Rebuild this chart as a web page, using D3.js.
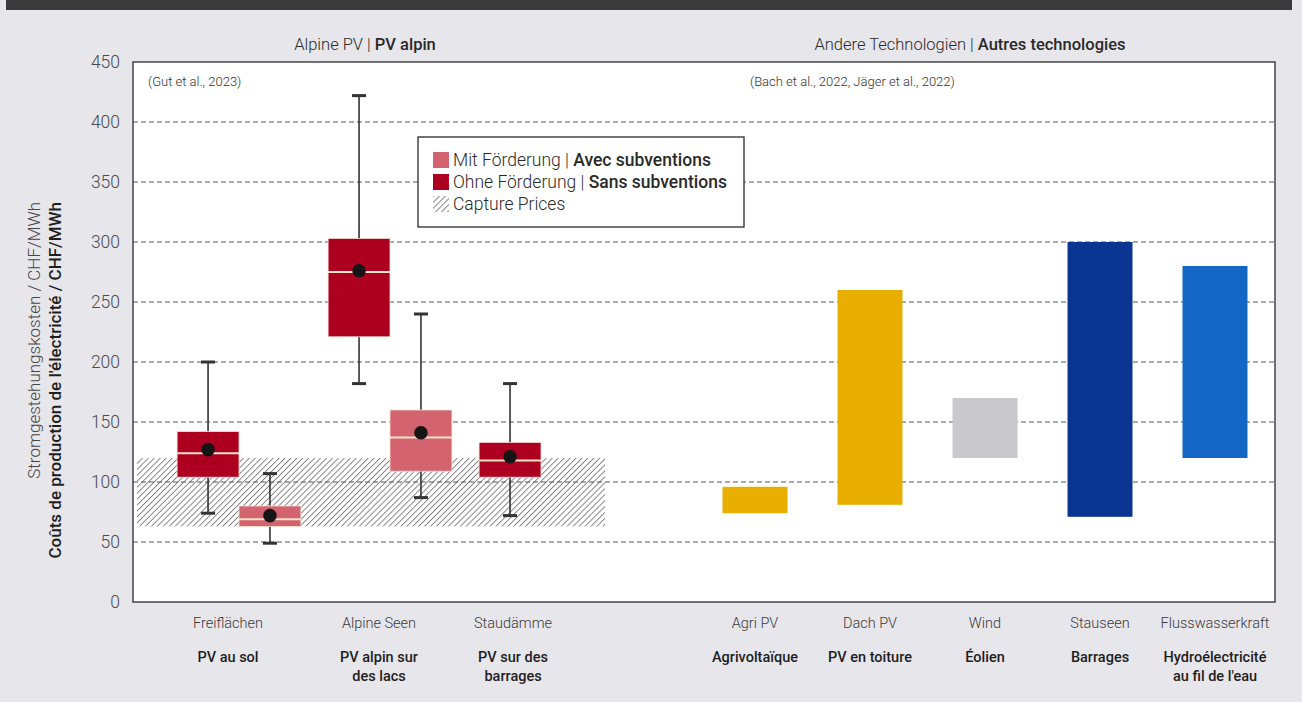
<!DOCTYPE html>
<html>
<head>
<meta charset="utf-8">
<script src="https://cdn.jsdelivr.net/npm/d3@7"></script>
<style>
  body { margin:0; background:#e7e6eb; }
  svg { display:block; font-family: Roboto, "Noto Sans", sans-serif; }
</style>
</head>
<body>
<svg id="chart" width="1302" height="702"></svg>
<script>
// --- data ---
const yTicks       = [0, 50, 100, 150, 200, 250, 300, 350, 400, 450];
const alpineCats   = ["Freiflächen", "Alpine Seen", "Staudämme"];
const alpineCatsFr = [["PV au sol"], ["PV alpin sur", "des lacs"], ["PV sur des", "barrages"]];
const boxSeriesKeys = ["ohne", "mit"];

// box plots (CHF/MWh)
const boxCategory = ["Freiflächen", "Freiflächen", "Alpine Seen", "Alpine Seen", "Staudämme"];
const boxSeries   = ["ohne", "mit", "ohne", "mit", "ohne"];
const boxMin      = [74, 49, 182, 87, 72];
const boxQ1       = [104, 63, 221, 109, 104];
const boxMedian   = [124, 69, 275, 137, 118];
const boxQ3       = [142, 80, 303, 160, 133];
const boxMax      = [200, 107, 422, 240, 182];
const boxMean     = [127, 72, 276, 141, 121];

const captureRange = [63, 120];

const otherTech   = ["Agri PV", "Dach PV", "Wind", "Stauseen", "Flusswasserkraft"];
const otherTechFr = [["Agrivoltaïque"], ["PV en toiture"], ["Éolien"], ["Barrages"], ["Hydroélectricité", "au fil de l'eau"]];
const otherLow    = [74, 81, 120, 71, 120];
const otherHigh   = [96, 260, 170, 300, 280];
const otherColor  = ["#e8ae00", "#e8ae00", "#c9c9cc", "#0a3590", "#1466c4"];

const seriesColor = { ohne: "#ad0020", mit: "#d2636f" };

// --- layout ---
const plotL = 133, plotR = 1275, plotT = 62, plotB = 602;
const svg = d3.select("#chart");

const y = d3.scaleLinear().domain([0, 450]).range([plotB, plotT]);

const x0 = d3.scaleBand().domain(alpineCats).range([162, 618])
              .paddingInner(0.18).paddingOuter(0.1);
const x1 = d3.scaleBand().domain(boxSeriesKeys).range([0, x0.bandwidth()]);
const xR = d3.scaleBand().domain(otherTech).range([697.5, 1272.5])
              .paddingInner(0.435).paddingOuter(0.2175);

// top dark strip
svg.append("rect").attr("x", 6).attr("y", 0).attr("width", 1286).attr("height", 10).attr("fill", "#3a3a3c");

// plot area
svg.append("rect").attr("x", plotL).attr("y", plotT)
   .attr("width", plotR - plotL).attr("height", plotB - plotT).attr("fill", "#ffffff");

// hatch pattern
const defs = svg.append("defs");
const pat = defs.append("pattern").attr("id", "hatch").attr("patternUnits", "userSpaceOnUse")
   .attr("width", 4.2).attr("height", 4.2).attr("patternTransform", "rotate(45)");
pat.append("rect").attr("width", 4.2).attr("height", 4.2).attr("fill", "#ffffff");
pat.append("line").attr("x1", 0).attr("y1", 0).attr("x2", 0).attr("y2", 4.2)
   .attr("stroke", "#7c7c80").attr("stroke-width", 1.8);

// capture prices band
svg.append("rect")
   .attr("x", plotL + 4)
   .attr("y", y(captureRange[1]))
   .attr("width", x0("Staudämme") + x1.bandwidth() + 64 - (plotL + 4))
   .attr("height", y(captureRange[0]) - y(captureRange[1]))
   .attr("fill", "url(#hatch)");

// gridlines
svg.append("g").selectAll("line")
   .data(yTicks.filter(d => d > 0 && d < 450))
   .join("line")
     .attr("x1", plotL).attr("x2", plotR)
     .attr("y1", d => y(d)).attr("y2", d => y(d))
     .attr("stroke", "#56565a").attr("stroke-width", 1)
     .attr("stroke-dasharray", "5,3");

// y axis labels
const yAxis = svg.append("g").attr("transform", `translate(${plotL},0)`)
   .call(d3.axisLeft(y).tickValues(yTicks).tickSize(0).tickPadding(13));
yAxis.select(".domain").remove();
yAxis.selectAll("text").attr("font-size", 17.5).attr("font-weight", 300)
     .attr("fill", "#4a4a4e").attr("font-family", "Roboto, sans-serif");

// y title
svg.append("text").attr("transform", "translate(40,202) rotate(-90)")
   .attr("text-anchor", "end").attr("font-size", 17).attr("font-weight", 300).attr("fill", "#444")
   .text("Stromgestehungskosten / CHF/MWh");
svg.append("text").attr("transform", "translate(61,202) rotate(-90)")
   .attr("text-anchor", "end").attr("font-size", 17).attr("font-weight", 500).attr("fill", "#1e1e1e")
   .text("Coûts de production de l'électricité / CHF/MWh");

// boxes
const boxes = boxCategory.map((c, i) => ({
  cat: c, ser: boxSeries[i], min: boxMin[i], q1: boxQ1[i], med: boxMedian[i],
  q3: boxQ3[i], max: boxMax[i], mean: boxMean[i]
}));
const boxW = x1.bandwidth();
const bx = d => x0(d.cat) + x1(d.ser);
const bc = d => bx(d) + boxW / 2;

const bg = svg.append("g").selectAll("g").data(boxes).join("g");
bg.append("line").attr("x1", bc).attr("x2", bc)
  .attr("y1", d => y(d.max)).attr("y2", d => y(d.min))
  .attr("stroke", "#333").attr("stroke-width", 1.6);
bg.selectAll(".cap").data(d => [d.max, d.min].map(v => ({ v, c: bc(d) }))).join("line")
  .attr("class", "cap")
  .attr("x1", d => d.c - 7).attr("x2", d => d.c + 7)
  .attr("y1", d => y(d.v)).attr("y2", d => y(d.v))
  .attr("stroke", "#333").attr("stroke-width", 3);
bg.append("rect").attr("x", bx).attr("width", boxW)
  .attr("y", d => y(d.q3)).attr("height", d => y(d.q1) - y(d.q3))
  .attr("fill", d => seriesColor[d.ser]).attr("stroke", "#f6dfcf").attr("stroke-width", 0.8);
bg.append("line").attr("x1", bx).attr("x2", d => bx(d) + boxW)
  .attr("y1", d => y(d.med)).attr("y2", d => y(d.med))
  .attr("stroke", "#f8e4c8").attr("stroke-width", 2);
bg.append("circle").attr("cx", bc).attr("cy", d => y(d.mean)).attr("r", 6.8).attr("fill", "#151515");

// other technologies bars
svg.append("g").selectAll("rect").data(otherTech).join("rect")
   .attr("x", d => xR(d)).attr("width", xR.bandwidth())
   .attr("y", (d, i) => y(otherHigh[i]))
   .attr("height", (d, i) => y(otherLow[i]) - y(otherHigh[i]))
   .attr("fill", (d, i) => otherColor[i]);

// frame
svg.append("rect").attr("x", plotL).attr("y", plotT)
   .attr("width", plotR - plotL).attr("height", plotB - plotT)
   .attr("fill", "none").attr("stroke", "#2a2a2a").attr("stroke-width", 1.3);

// panel titles
const title = (cx, de, fr) => {
  const t = svg.append("text").attr("x", cx).attr("y", 50).attr("text-anchor", "middle")
     .attr("font-size", 16.5).attr("fill", "#2a2a2a");
  t.append("tspan").attr("font-weight", 300).text(de + " | ");
  t.append("tspan").attr("font-weight", 500).text(fr);
};
title(365, "Alpine PV", "PV alpin");
title(970, "Andere Technologien", "Autres technologies");

// citations
svg.append("text").attr("x", 148).attr("y", 86).attr("font-size", 13).attr("font-weight", 300)
   .attr("fill", "#333").text("(Gut et al., 2023)");
svg.append("text").attr("x", 750).attr("y", 86).attr("font-size", 13).attr("font-weight", 300)
   .attr("fill", "#333").text("(Bach et al., 2022, Jäger et al., 2022)");

// category labels
const catLabel = (cx, de, frLines) => {
  svg.append("text").attr("x", cx).attr("y", 628).attr("text-anchor", "middle")
     .attr("font-size", 14.5).attr("font-weight", 300).attr("fill", "#3a3a3a").text(de);
  svg.append("text").attr("text-anchor", "middle").attr("font-size", 14.5).attr("font-weight", 500)
     .attr("fill", "#1e1e1e")
     .selectAll("tspan").data(frLines).join("tspan")
       .attr("x", cx).attr("y", (d, i) => 662 + i * 19).text(d => d);
};
alpineCats.forEach((c, i) => {
  const centers = boxes.filter(b => b.cat === c).map(bc);
  const mid = d3.mean(centers);
  catLabel(centers.length > 1 ? mid - 11 : mid + 3, c, alpineCatsFr[i]);
});
otherTech.forEach((c, i) => catLabel(xR(c) + xR.bandwidth() / 2, c, otherTechFr[i]));

// legend
const lg = svg.append("g").attr("transform", "translate(418,137)");
lg.append("rect").attr("width", 326).attr("height", 90).attr("fill", "#fff")
  .attr("stroke", "#2a2a2a").attr("stroke-width", 1.3);
const legendItems = [
  { de: "Mit Förderung | ", fr: "Avec subventions", fill: seriesColor.mit },
  { de: "Ohne Förderung | ", fr: "Sans subventions", fill: seriesColor.ohne },
  { de: "Capture Prices", fr: "", fill: "url(#hatch)" }
];
const li = lg.selectAll("g").data(legendItems).join("g")
  .attr("transform", (d, i) => `translate(15,${15 + i * 22})`);
li.append("rect").attr("width", 16).attr("height", 16).attr("fill", d => d.fill);
const lt = li.append("text").attr("x", 20).attr("y", 14).attr("font-size", 17.5).attr("fill", "#2a2a2a");
lt.append("tspan").attr("font-weight", 300).text(d => d.de);
lt.append("tspan").attr("font-weight", 500).text(d => d.fr);
</script>
</body>
</html>
